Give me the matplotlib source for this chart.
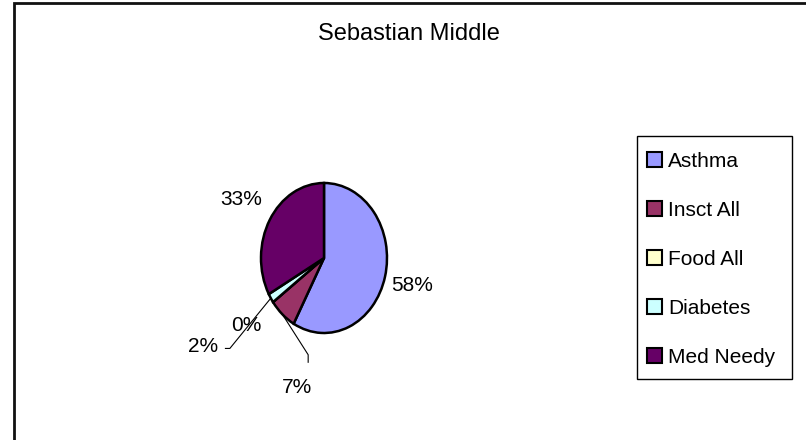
import numpy as np
import matplotlib
matplotlib.use("Agg")
import matplotlib.pyplot as plt
from matplotlib.patches import Patch, Rectangle
from matplotlib import font_manager

# ---- data ----
title = "Sebastian Middle"
categories = ["Asthma", "Insct All", "Food All", "Diabetes", "Med Needy"]
values = [58, 7, 0, 2, 33]
pct_labels = ["58%", "7%", "0%", "2%", "33%"]
colors = ["#9999FF", "#993366", "#FFFFCC", "#CCFFFF", "#660066"]

avail = {f.name for f in font_manager.fontManager.ttflist}
fam = "Liberation Sans Narrow" if "Liberation Sans Narrow" in avail else "Liberation Sans"
plt.rcParams["font.family"] = [fam, "DejaVu Sans"]

W, H = 806, 440
fig = plt.figure(figsize=(W / 100, H / 100), dpi=100)
fig.patch.set_facecolor("white")

# outer chart border (right and bottom edges fall outside the image)
fig.patches.append(Rectangle((14 / W, -0.2), 1.2, 1.2 - 3 / H, transform=fig.transFigure,
                             fill=False, edgecolor="#111111", linewidth=2))

# pie axes: ellipse centred at (324, 258) px, rx=63, ry=75
cx, cy, rx, ry = 324, 258, 63, 75
aw, ah = 2.5 * rx, 2.5 * ry
ax = fig.add_axes([(cx - aw / 2) / W, (H - cy - ah / 2) / H, aw / W, ah / H])
wedges, _ = ax.pie(values, colors=colors, startangle=90, counterclock=False,
                   wedgeprops=dict(edgecolor="black", linewidth=1.8))
ax.set_aspect("auto")
ax.set_xlim(-1.25, 1.25)
ax.set_ylim(-1.25, 1.25)

fs = 15
mids = []
for w in wedges:
    mids.append(np.deg2rad((w.theta1 + w.theta2) / 2))

def edge(i, r=1.0):
    return np.array([r * np.cos(mids[i]), r * np.sin(mids[i])])

# plain labels placed radially
for i, r in [(0, 1.45), (4, 1.52), (2, 1.52)]:
    x, y = edge(i, r)
    ax.text(x, y, pct_labels[i], ha="center", va="center", fontsize=fs, clip_on=False)

# Insct All label with leader line
a = edge(1)
knee = a + np.array([0.41, -0.54])
end = knee + np.array([0.0, -0.10])
ax.plot([a[0], knee[0], end[0]], [a[1], knee[1], end[1]], color="black", lw=0.8, clip_on=False)
t = a + np.array([0.23, -0.97])
ax.text(t[0], t[1], pct_labels[1], ha="center", va="center", fontsize=fs, clip_on=False)

# Diabetes label with leader line
a = edge(3)
knee = a + np.array([-0.65, -0.67])
end = knee + np.array([-0.07, 0.0])
ax.plot([a[0], knee[0], end[0]], [a[1], knee[1], end[1]], color="black", lw=0.8, clip_on=False)
t = a + np.array([-1.08, -0.65])
ax.text(t[0], t[1], pct_labels[3], ha="center", va="center", fontsize=fs, clip_on=False)

# title
fig.text(409 / W, 1 - 34 / H, title, ha="center", va="center", fontsize=17)

# legend frame drawn separately
fig.patches.append(Rectangle((637 / W, 1 - 379 / H), 155 / W, 243 / H, transform=fig.transFigure,
                             fill=False, edgecolor="black", linewidth=1.0))
handles = [Patch(facecolor=c, edgecolor="black", linewidth=1.5) for c in colors]
leg = fig.legend(handles, categories, loc="upper left",
                 bbox_to_anchor=(647 / W, 1 - 152 / H), fontsize=fs,
                 handlelength=0.7, handleheight=0.7, handletextpad=0.3,
                 labelspacing=1.44, borderpad=0, borderaxespad=0,
                 frameon=False)

fig.savefig("out.png", dpi=100)
